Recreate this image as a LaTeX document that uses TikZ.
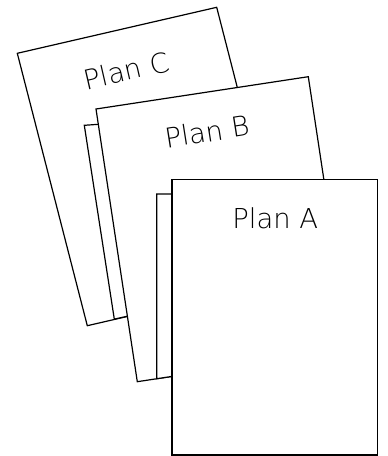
\documentclass[tikz,border=0pt]{standalone}
\usepackage{fontspec}
\newfontfamily\planfont{DejaVu Sans ExtraLight}
\begin{document}
\begin{tikzpicture}[x=1pt,y=-1pt,
  page/.style={draw=black, fill=white, line width=1.2pt},
  lbl/.style={font=\planfont\fontsize{27.4}{30}\selectfont, inner sep=0pt}]
\useasboundingbox (0,0) rectangle (388,456);
% Plan C
\draw[page] (17.3,53.3) -- (216.7,7.3) -- (286.7,279.7) -- (87.3,325.7) -- cycle;
\node[lbl, rotate=13] (lc) at (126.5,70.5) {Plan C};
% back sheet of Plan B
\draw[page] (84.3,125.3) -- (110,123.5) -- (140,313.4) -- (114.3,319.1) -- cycle;
% Plan B
\draw[page] (96,109) -- (308.3,76.7) -- (349.6,349.4) -- (137.3,381.7) -- cycle;
\node[lbl, rotate=9] (lb) at (207,131.7) {Plan B};
% back sheet of Plan A
\draw[page] (156.8,194) -- (180,194) -- (180,375.2) -- (156.8,378.7) -- cycle;
% Plan A
\draw[page] (172,179.3) rectangle (377.7,455);
\node[lbl] (la) at (275.3,218.3) {Plan A};
\end{tikzpicture}
\end{document}
